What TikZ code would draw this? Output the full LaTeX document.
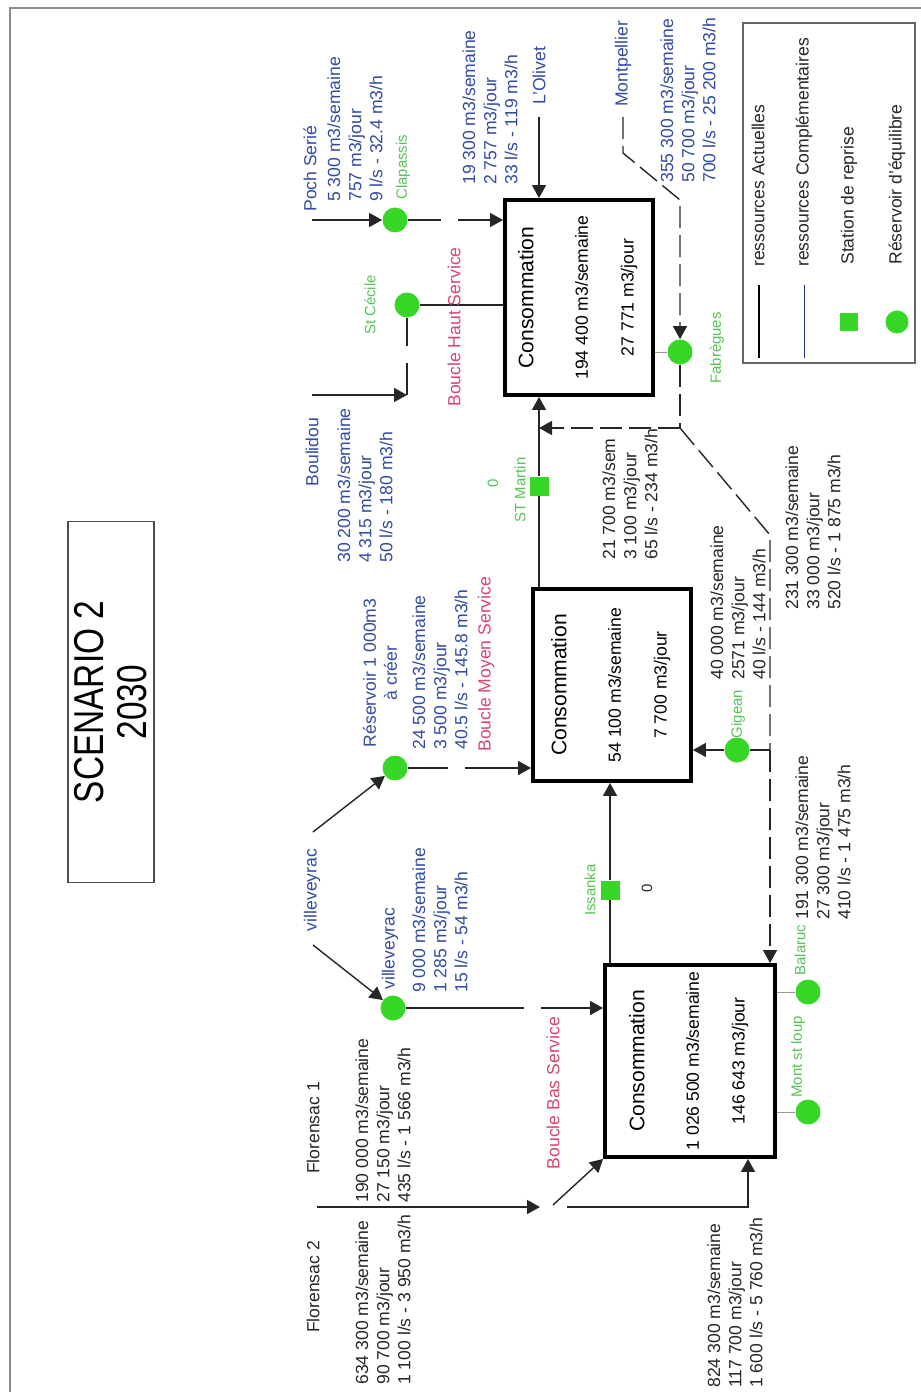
\documentclass[tikz,border=0pt]{standalone}
\usepackage{fontspec}
\setmainfont{Liberation Sans}
\usepackage{graphicx}
\usetikzlibrary{arrows.meta}
\definecolor{cvert}{RGB}{55,215,40}
\definecolor{cvertT}{RGB}{85,195,85}
\definecolor{cbleu}{RGB}{50,75,160}
\definecolor{crose}{RGB}{215,70,110}
\newcommand{\consotexte}[2]{\rotatebox{90}{\begin{tabular}{@{}c@{}}{\fontsize{12}{14}\selectfont Consommation}\\[19pt]#1\\[14pt]#2\end{tabular}}}

\begin{document}
\begin{tikzpicture}[x=0.2mm,y=-0.2mm,
    >={Triangle[length=2.6mm,width=2.8mm]},
    fl/.style={line width=0.8pt,draw=black!85},
    lien/.style={line width=0.5pt,draw=black!40},
    tirets/.style={dash pattern=on 4.4mm off 1.4mm},
    trou/.style={dash pattern=on #1 off 3.4mm on 300mm off 1mm},
    conso/.style={draw,line width=2.2pt,inner sep=0pt,font=\fontsize{10}{12}\selectfont},
    reserv/.style={circle,fill=cvert,minimum size=5mm,inner sep=0pt},
    reprise/.style={rectangle,fill=cvert,minimum size=3.8mm,inner sep=0pt},
    lbl/.style={rotate=90,inner sep=0pt,align=left,font=\fontsize{10}{12}\selectfont},
    bleu/.style={lbl,text=cbleu},
    noir/.style={lbl,text=black!85},
    boucle/.style={lbl,text=crose},
    site/.style={lbl,text=cvertT,font=\fontsize{8.5}{10}\selectfont}]
  \useasboundingbox (0,0) rectangle (921,1392);
  \draw[black!45,line width=0.7pt] (10,1392) -- (10,8) -- (921,8);

  \node[draw=black!70,line width=0.6pt,rotate=90,minimum width=72.2mm,minimum height=17.2mm,align=center,font=\fontsize{19}{24.5}\selectfont] (titre) at (111,702) {\scalebox{1}[1.25]{SCENARIO 2}\\\scalebox{1}[1.25]{2030}};

  \node[conso,minimum width=29.6mm,minimum height=39mm] (haut) at (579,297.5) {\consotexte{194 400 m3/semaine}{27 771 m3/jour}};
  \node[conso,minimum width=31.6mm,minimum height=38.4mm] (moyen) at (612,685) {\consotexte{54 100 m3/semaine}{7 700 m3/jour}};
  \node[conso,minimum width=34mm,minimum height=38.4mm] (bas) at (690,1061) {\consotexte{1 026 500 m3/semaine}{146 643 m3/jour}};

  \node[reserv] (clap) at (395,220) {};
  \node[reserv] (cecile) at (407,305) {};
  \node[reserv] (reservoir) at (395,768) {};
  \node[reserv] (ville) at (393,1008) {};
  \node[reserv] (fabregues) at (680,352) {};
  \node[reserv] (gigean) at (737,750) {};
  \node[reserv] (balaruc) at (808,992) {};
  \node[reserv] (montloup) at (808,1112) {};
  \node[reprise] (stmartin) at (539,486) {};
  \node[reprise] (issanka) at (610,890) {};

  \coordinate (poch) at (312,220);
  \coordinate (boulidou) at (312,395);
  \coordinate (coinBoul) at (407,395);
  \coordinate (olivet) at (539,117);
  \coordinate (montp) at (623,117);
  \coordinate (montA) at (623,153);
  \coordinate (montB) at (680,200);
  \coordinate (jonc) at (680,428);
  \coordinate (diag) at (770,535);
  \coordinate (jGig) at (770,750);
  \coordinate (villeA) at (313,832);
  \coordinate (villeB) at (313,945);
  \coordinate (flor) at (317,1207);
  \coordinate (florA) at (540,1207);
  \coordinate (florB) at (553,1205);
  \coordinate (florC) at (567,1207);
  \coordinate (florD) at (748,1207);

  \draw[fl,->] (poch) -- (clap);
  \draw[fl,->,trou=6.6mm] (clap) -- (clap -| haut.west);
  \draw[fl] (cecile) -- (cecile -| haut.west);
  \draw[fl,->] (boulidou) -- (coinBoul);
  \draw[fl,trou=6.4mm] (coinBoul) -- (cecile);
  \draw[fl,->] (olivet) -- (olivet |- haut.north);
  \draw[fl,->,tirets] (montp) -- (montA) -- (montB) -- (fabregues);
  \draw[lien] (fabregues) -- (fabregues -| haut.east);
  \draw[fl,tirets] (fabregues) -- (jonc);
  \draw[fl,->,tirets] (jonc) -- (jonc -| stmartin);
  \draw[fl,tirets] (jonc) -- (diag) -- (jGig);
  \draw[fl,->,tirets] (jGig) -- (jGig |- bas.north);
  \draw[fl] (jGig) -- (gigean);
  \draw[fl,->,tirets] (gigean) -- (gigean -| moyen.east);
  \draw[fl] (stmartin |- moyen.north) -- (stmartin);
  \draw[fl,->] (stmartin) -- (stmartin |- haut.south);
  \draw[fl] (issanka |- bas.north) -- (issanka);
  \draw[fl,->] (issanka) -- (issanka |- moyen.south);
  \draw[fl,->] (villeA) -- (reservoir);
  \draw[fl,->] (villeB) -- (ville);
  \draw[fl,->,trou=8mm] (reservoir) -- (reservoir -| moyen.west);
  \draw[fl,->,trou=23.6mm] (ville) -- (ville -| bas.west);
  \draw[fl,->] (flor) -- (florA);
  \draw[fl,->] (florB) -- (bas.south west);
  \draw[fl,->] (florC) -- (florD) -- (florD |- bas.south);
  \draw[lien] (balaruc) -- (balaruc -| bas.east);
  \draw[lien] (montloup) -- (montloup -| bas.east);

  \node[bleu,anchor=west] (tPoch) at (310,212) {Poch Serié};
  \node[bleu,anchor=west] (vPoch) at (355,202) {5 300 m3/semaine\\757 m3/jour\\9 l/s - 32.4 m3/h};
  \node[site,anchor=west] (tClap) at (403,200) {Clapassis};
  \node[bleu] (tBoul) at (312,452) {Boulidou};
  \node[bleu,anchor=west] (vBoul) at (365,563) {30 200 m3/semaine\\4 315 m3/jour\\50 l/s - 180 m3/h};
  \node[site] (tCecile) at (370,305) {St Cécile};
  \node[boucle] (bHaut) at (454,327) {Boucle Haut Service};
  \node[bleu,anchor=west] (vOlivet) at (490,185) {19 300 m3/semaine\\2 757 m3/jour\\33 l/s - 119 m3/h};
  \node[bleu,anchor=west] (tOlivet) at (539,105) {L'Olivet};
  \node[bleu,anchor=west] (tMontp) at (623,107) {Montpellier};
  \node[bleu,anchor=west] (vMontp) at (688,183) {355 300 m3/semaine\\50 700 m3/jour\\700 l/s - 25 200 m3/h};
  \node[site] (tFab) at (717,348) {Fabrègues};
  \node[site] (tMartin) at (520,490) {ST Martin};
  \node[site] (zMartin) at (493,483) {0};
  \node[noir,anchor=west] (vMartin) at (630,560) {21 700 m3/sem\\3 100 m3/jour\\65 l/s - 234 m3/h};
  \node[noir,anchor=west] (vDiag) at (813,610) {231 300 m3/semaine\\33 000 m3/jour\\520 l/s - 1 875 m3/h};
  \node[noir,anchor=west] (vGig) at (738,680) {40 000 m3/semaine\\2571 m3/jour\\40 l/s - 144 m3/h};
  \node[site] (tGig) at (738,714) {Gigean};
  \node[bleu,align=center] (tRes) at (380,673) {Réservoir 1 000m3\\à créer};
  \node[bleu,anchor=west] (vRes) at (440,750) {24 500 m3/semaine\\3 500 m3/jour\\40.5 l/s - 145.8 m3/h};
  \node[boucle,anchor=west] (bMoyen) at (486,752) {Boucle Moyen Service};
  \node[bleu] (tVille) at (312,890) {villeveyrac};
  \node[bleu,anchor=west] (tVilleB) at (390,990) {villeveyrac};
  \node[bleu,anchor=west] (vVille) at (440,993) {9 000 m3/semaine\\1 285 m3/jour\\15 l/s - 54 m3/h};
  \node[site] (tIssanka) at (590,890) {Issanka};
  \node[noir,font=\fontsize{8.5}{10}\selectfont] (zIssanka) at (647,888) {0};
  \node[boucle] (bBas) at (553,1093) {Boucle Bas Service};
  \node[noir,anchor=west] (vBal) at (823,920) {191 300 m3/semaine\\27 300 m3/jour\\410 l/s - 1 475 m3/h};
  \node[site] (tBal) at (800,950) {Balaruc};
  \node[site] (tMont) at (798,1057) {Mont st loup};
  \node[noir] (tFlor1) at (313,1128) {Florensac 1};
  \node[noir] (tFlor2) at (313,1287) {Florensac 2};
  \node[noir,anchor=west] (vFlor1) at (383,1203) {190 000 m3/semaine\\27 150 m3/jour\\435 l/s - 1 566 m3/h};
  \node[noir,anchor=west] (vFlor2) at (383,1385) {634 300 m3/semaine\\90 700 m3/jour\\1 100 l/s - 3 950 m3/h};
  \node[noir,anchor=west] (vBas) at (735,1388) {824 300 m3/semaine\\117 700 m3/jour\\1 600 l/s - 5 760 m3/h};

  \node[draw=black!60,line width=0.6pt,minimum width=34.4mm,minimum height=68mm] (legende) at (829,193) {};
  \draw[line width=0.9pt] (759,285) -- (759,358);
  \draw[line width=0.5pt,draw=cbleu!70!black] (804,285) -- (804,358);
  \node[reprise,minimum size=3.6mm] (legSta) at (849,322) {};
  \node[reserv,minimum size=4.6mm] (legRes) at (897,322) {};
  \node[noir,anchor=west] (legA) at (758,267) {ressources Actuelles};
  \node[noir,anchor=west] (legB) at (804,267) {ressources Complémentaires};
  \node[noir,anchor=west] (legC) at (849,265) {Station de reprise};
  \node[noir,anchor=west] (legD) at (897,265) {Réservoir d'équilibre};
\end{tikzpicture}
\end{document}
